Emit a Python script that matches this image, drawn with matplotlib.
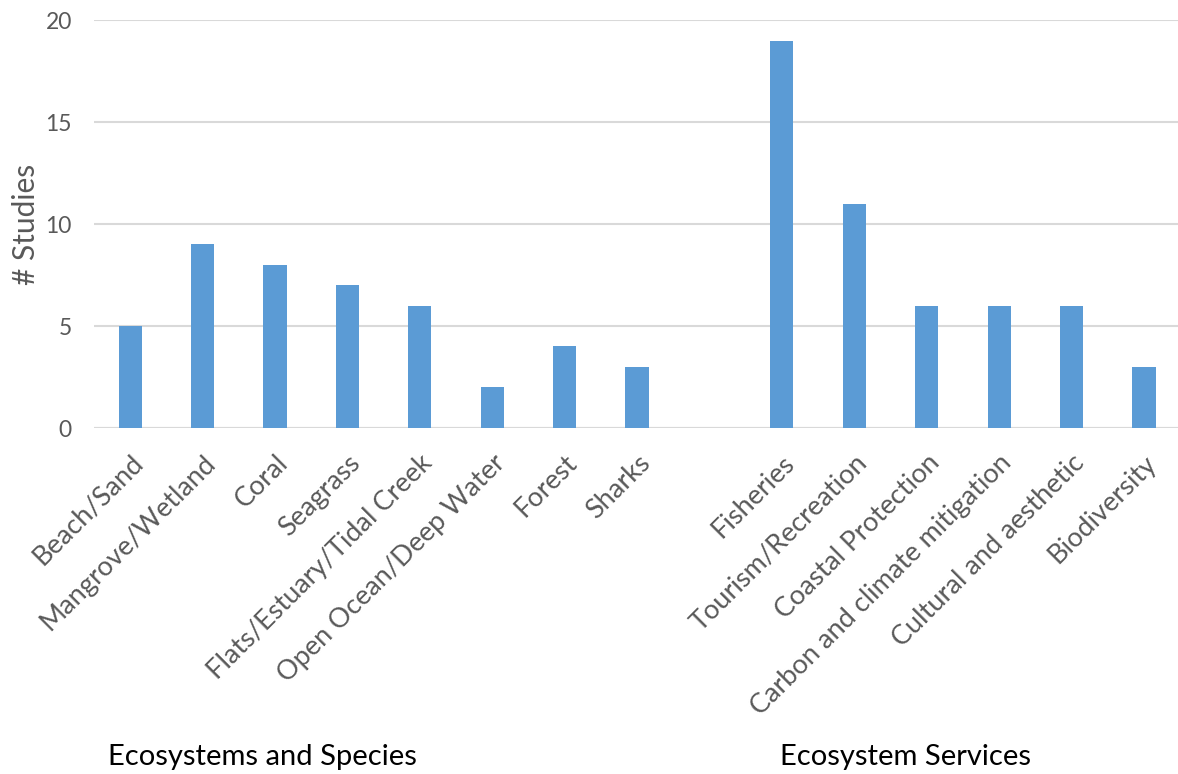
import numpy as np
import matplotlib.pyplot as plt

plt.rcParams['font.family'] = ['Lato', 'DejaVu Sans']

eco_names = ['Beach/Sand', 'Mangrove/Wetland', 'Coral', 'Seagrass',
             'Flats/Estuary/Tidal Creek', 'Open Ocean/Deep Water', 'Forest', 'Sharks']
eco_counts = [5, 9, 8, 7, 6, 2, 4, 3]
svc_names = ['Fisheries', 'Tourism/Recreation', 'Coastal Protection',
             'Carbon and climate mitigation', 'Cultural and aesthetic', 'Biodiversity']
svc_counts = [19, 11, 6, 6, 6, 3]

labels = eco_names + [''] + svc_names
values = eco_counts + [0] + svc_counts
x = np.arange(len(labels))

fig = plt.figure(figsize=(11.78, 7.74), dpi=100)
ax = fig.add_axes([0.0798, 0.447, 0.922, 0.527])

ax.bar(x, values, width=0.32, color='#5B9BD5', zorder=3)
ax.set_xlim(-0.5, len(labels) - 0.5)
ax.set_ylim(0, 20)
ax.set_yticks([0, 5, 10, 15, 20])
ax.yaxis.grid(True, color='#D9D9D9', linewidth=1.5, zorder=0)
for s in ax.spines.values():
    s.set_visible(False)
ax.axhline(0, color='#D9D9D9', linewidth=1.5, zorder=2)

ax.set_xticks(x)
ax.set_xticklabels(labels, rotation=45, ha='right', rotation_mode='anchor',
                   fontsize=19.5, color='#595959')
ax.tick_params(axis='x', length=0, pad=16)
ax.tick_params(axis='y', length=0, pad=16, labelsize=16.5, labelcolor='#595959')
ax.set_ylabel('# Studies', fontsize=21.5, color='#595959', labelpad=4)

fig.text(262 / 1178, 1 - 757 / 774, 'Ecosystems and Species', fontsize=21,
         ha='center', va='center', color='black')
fig.text(905 / 1178, 1 - 757 / 774, 'Ecosystem Services', fontsize=21,
         ha='center', va='center', color='black')

fig.savefig('out.png', dpi=100)
